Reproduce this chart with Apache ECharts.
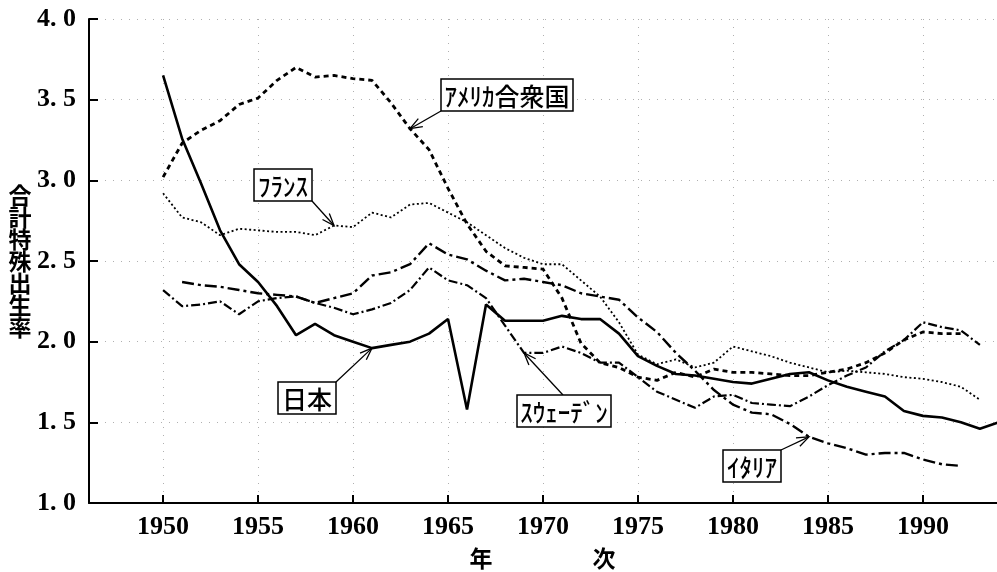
<!DOCTYPE html>
<html><head><meta charset="utf-8">
<script src="https://cdn.jsdelivr.net/npm/echarts@6/dist/echarts.min.js"></script>
<style>html,body{margin:0;padding:0;background:#fff}#c{width:997px;height:572px}</style>
</head><body><div id="c"></div>
<script>
const years = [1950,1951,1952,1953,1954,1955,1956,1957,1958,1959,1960,1961,1962,1963,1964,1965,1966,1967,1968,1969,1970,1971,1972,1973,1974,1975,1976,1977,1978,1979,1980,1981,1982,1983,1984,1985,1986,1987,1988,1989,1990,1991,1992,1993,1994];
const japan  = [3.65,3.26,2.98,2.69,2.48,2.37,2.22,2.04,2.11,2.04,2.00,1.96,1.98,2.00,2.05,2.14,1.58,2.23,2.13,2.13,2.13,2.16,2.14,2.14,2.05,1.91,1.85,1.80,1.79,1.77,1.75,1.74,1.77,1.80,1.81,1.76,1.72,1.69,1.66,1.57,1.54,1.53,1.50,1.46,1.50];
const usa    = [3.02,3.23,3.31,3.37,3.47,3.51,3.62,3.70,3.64,3.65,3.63,3.62,3.48,3.32,3.19,2.95,2.73,2.56,2.47,2.46,2.45,2.27,1.99,1.87,1.84,1.78,1.76,1.81,1.78,1.83,1.81,1.81,1.80,1.79,1.79,1.81,1.83,1.87,1.93,2.01,2.06,2.05,2.05,null,null];
const france = [2.92,2.77,2.74,2.66,2.70,2.69,2.68,2.68,2.66,2.72,2.71,2.80,2.77,2.85,2.86,2.80,2.74,2.66,2.58,2.52,2.48,2.48,2.38,2.28,2.12,1.92,1.86,1.89,1.84,1.87,1.97,1.94,1.91,1.87,1.84,1.81,1.82,1.81,1.80,1.78,1.77,1.75,1.72,1.64,null];
const sweden = [2.32,2.22,2.23,2.25,2.17,2.25,2.27,2.28,2.24,2.21,2.17,2.20,2.24,2.32,2.46,2.38,2.35,2.27,2.10,1.93,1.93,1.97,1.93,1.87,1.87,1.78,1.69,1.64,1.59,1.66,1.67,1.62,1.61,1.60,1.66,1.73,1.79,1.84,1.94,2.01,2.12,2.09,2.07,1.98,null];
const italy  = [null,2.37,2.35,2.34,2.32,2.30,2.29,2.28,2.24,2.27,2.30,2.41,2.43,2.48,2.61,2.54,2.51,2.44,2.38,2.39,2.37,2.35,2.30,2.28,2.26,2.15,2.06,1.93,1.82,1.70,1.61,1.56,1.55,1.49,1.41,1.37,1.34,1.30,1.31,1.31,1.27,1.24,1.23,null,null];
const xTickYears = [1950,1955,1960,1965,1970,1975,1980,1985,1990];
const yAxisTitle = '合計特殊出生率';
const xAxisTitle = ['年','次'];
const labels = [
  {text:'ｱﾒﾘｶ合衆国', series:'usa', year:1963},
  {text:'ﾌﾗﾝｽ', series:'france', year:1959},
  {text:'日本', series:'japan', year:1961},
  {text:'ｽｳｪｰﾃﾞﾝ', series:'sweden', year:1969},
  {text:'ｲﾀﾘｱ', series:'italy', year:1984}
];

const dataMap = {japan, usa, france, sweden, italy};
const pairs = arr => years.map((y,i)=>[y, arr[i]]);
const NUM_FONT = 'Liberation Serif';
const JP_FONT = '"Noto Sans CJK JP"';

const chart = echarts.init(document.getElementById('c'), null, {renderer:'canvas'});
const lineSeries = (name, arr, width, type) => ({
  name, type:'line', data: pairs(arr), symbol:'none', connectNulls:false, silent:true,
  lineStyle:{color:'#000', width, type}, z:3
});
chart.setOption({
  animation:false,
  backgroundColor:'#fff',
  grid:{left:89, right:0, top:19, bottom:69},
  xAxis:{
    type:'value', min:1946.1, max:1993.9,
    axisLine:{lineStyle:{color:'#000', width:2}},
    axisTick:{inside:true, length:8, customValues:xTickYears, lineStyle:{color:'#000', width:2}},
    axisLabel:{customValues:xTickYears, fontFamily:NUM_FONT, fontSize:26, fontWeight:'bold', color:'#000', margin:11,
      formatter: v => String(v)},
    splitLine:{show:true, lineStyle:{color:'#b0b0b0', width:1, type:[1,7]}}
  },
  yAxis:{
    type:'value', min:1, max:4, interval:0.5,
    axisLine:{show:true, lineStyle:{color:'#000', width:2}},
    axisTick:{show:true, inside:true, length:9, lineStyle:{color:'#000', width:2}},
    axisLabel:{fontFamily:NUM_FONT, fontSize:26, fontWeight:'bold', color:'#000', margin:13, padding:[9,0,0,0],
      formatter: v => v.toFixed(1).replace('.', '. ')},
    splitLine:{show:true, lineStyle:{color:'#b0b0b0', width:1, type:[1,7]}}
  },
  series:[
    lineSeries('japan', japan, 2.6, 'solid'),
    lineSeries('usa', usa, 2.8, [5,4]),
    lineSeries('france', france, 1.8, [2,2.5]),
    lineSeries('sweden', sweden, 2.2, [9,3,2,3]),
    lineSeries('italy', italy, 2.4, [12,4,3,4])
  ]
});

const boxes = {
  usa:{x:441,y:79,w:132,h:32, ax:441, ay:111},
  france:{x:254,y:169,w:58,h:32, ax:312, ay:201},
  japan:{x:278,y:382,w:58,h:32, ax:336, ay:382},
  sweden:{x:517,y:395,w:94,h:32, ax:563, ay:395},
  italy:{x:723,y:450,w:58,h:32, ax:781, ay:450}
};
const g = [];
labels.forEach(l=>{
  const b = boxes[l.series];
  const idx = years.indexOf(l.year);
  const tip = chart.convertToPixel({gridIndex:0}, [l.year, dataMap[l.series][idx]]);
  const a = Math.atan2(tip[1]-b.ay, tip[0]-b.ax);
  const L = 13, s = 0.36;
  const p1 = [tip[0]-L*Math.cos(a-s), tip[1]-L*Math.sin(a-s)];
  const p2 = [tip[0]-L*Math.cos(a+s), tip[1]-L*Math.sin(a+s)];
  g.push({type:'line', shape:{x1:b.ax,y1:b.ay,x2:tip[0],y2:tip[1]}, style:{stroke:'#000', lineWidth:1.3}, z:10});
  g.push({type:'polyline', shape:{points:[p1,tip,p2]}, style:{stroke:'#000', lineWidth:1.3, fill:null}, z:10});
  g.push({type:'rect', shape:{x:b.x,y:b.y,width:b.w,height:b.h}, style:{fill:'#fff', stroke:'#000', lineWidth:1.5}, z:11});
  g.push({type:'text', x:b.x+b.w/2, y:b.y+b.h/2+1, style:{text:l.text, font:'500 25px '+JP_FONT, fill:'#000', align:'center', verticalAlign:'middle'}, z:12});
});
g.push({type:'text', x:20, y:184, style:{text:yAxisTitle.split('').join('\n'), font:'bold 23px '+JP_FONT, lineHeight:22, fill:'#000', align:'center', verticalAlign:'top'}, z:12});
g.push({type:'text', x:481, y:558, style:{text:xAxisTitle[0], font:'bold 23px '+JP_FONT, fill:'#000', align:'center', verticalAlign:'middle'}, z:12});
g.push({type:'text', x:604, y:558, style:{text:xAxisTitle[1], font:'bold 23px '+JP_FONT, fill:'#000', align:'center', verticalAlign:'middle'}, z:12});
chart.setOption({graphic:g});
</script></body></html>
